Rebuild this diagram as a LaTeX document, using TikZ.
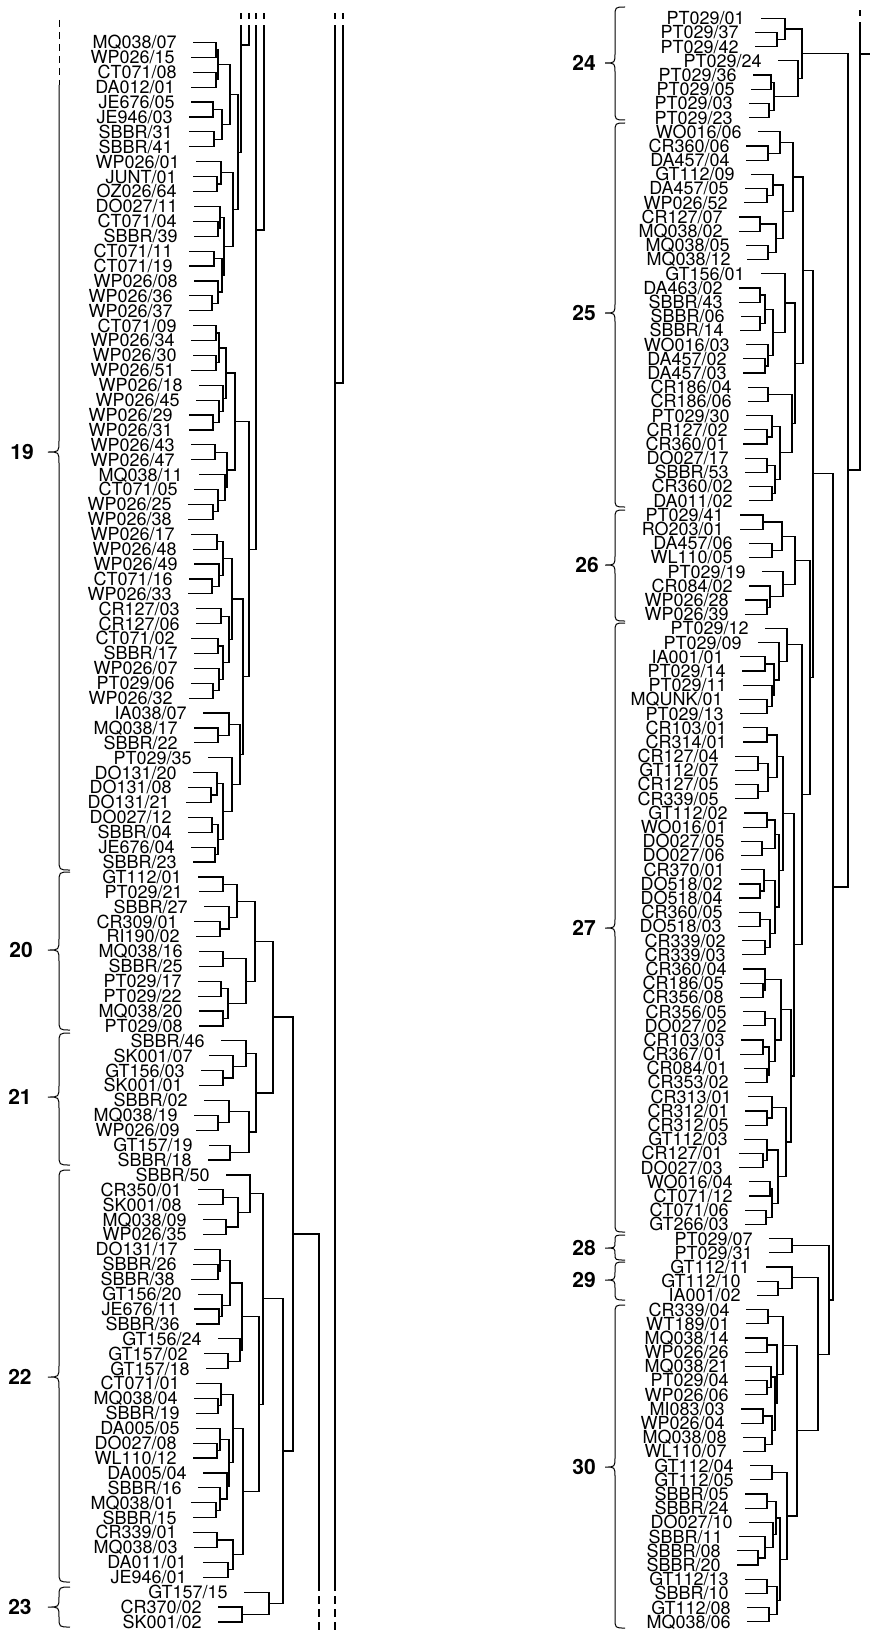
\documentclass[tikz,border=0pt]{standalone}
\usepackage{fontspec}
\setmainfont{TeX Gyre Heros}
\usepackage{tikz}

% join two children at x = #4
\newcommand{\mrg}[4]{%
  \path (#2) -- (#3) coordinate[pos=.5] (mid);
  \coordinate (xc) at (#4,0);
  \coordinate (#1) at (mid -| xc);
  \draw[branch] (#2) -| (#1) |- (#3);
}
% curly brace: x of ends, top, tip, bottom, amplitude
\newcommand{\cbrace}[5]{%
  \pgfmathsetmacro{\rr}{min(#5/2,(#3-#2)/2,(#4-#3)/2)}%
  \draw[bline] (#1,#2) .. controls ({#1-#5/2},#2) .. ({#1-#5/2},{#2+\rr})
    -- ({#1-#5/2},{#3-\rr}) .. controls ({#1-#5/2},#3) .. ({#1-#5},#3)
    .. controls ({#1-#5/2},#3) .. ({#1-#5/2},{#3+\rr})
    -- ({#1-#5/2},{#4-\rr}) .. controls ({#1-#5/2},#4) .. (#1,#4);
}

\begin{document}
\begin{tikzpicture}[x=0.5pt, y=-0.5pt,
  leaf/.style={anchor=east, inner sep=0pt, text height=6.4pt, text depth=0pt,
    font=\fontsize{9}{9}\selectfont},
  grp/.style={font=\fontsize{10.5}{10.5}\selectfont\bfseries},
  branch/.style={line width=0.6pt},
  trunk/.style={line width=0.9pt},
  bline/.style={line width=0.5pt},
  offtop/.style={line width=0.6pt, dash pattern=on 3pt off 3pt},
  offbot/.style={line width=0.6pt, dash pattern=on 4pt off 2.5pt}
]
\useasboundingbox (0,0) rectangle (870,1632);

% left column leaves
\foreach \lab/\ex [count=\i] in {{MQ038/07}/177, {WP026/15}/175, {CT071/08}/177,
  {DA012/01}/175, {JE676/05}/175, {JE946/03}/173, {SBBR/31}/173, {SBBR/41}/173,
  {WP026/01}/180, {JUNT/01}/177, {OZ026/64}/177, {DO027/11}/178, {CT071/04}/177,
  {SBBR/39}/178, {CT071/11}/173, {CT071/19}/173, {WP026/08}/178, {WP026/36}/173,
  {WP026/37}/173, {CT071/09}/177, {WP026/34}/175, {WP026/30}/177, {WP026/51}/175,
  {WP026/18}/183, {WP026/45}/180, {WP026/29}/173, {WP026/31}/173, {WP026/43}/175,
  {WP026/47}/175, {MQ038/11}/183, {CT071/05}/178, {WP026/25}/172, {WP026/38}/172,
  {WP026/17}/175, {WP026/48}/177, {WP026/49}/178, {CT071/16}/173, {WP026/33}/172,
  {CR127/03}/180, {CR127/06}/180, {CT071/02}/175, {SBBR/17}/178, {WP026/07}/178,
  {PT029/06}/175, {WP026/32}/173, {IA038/07}/187, {MQ038/17}/178, {SBBR/22}/178,
  {PT029/35}/192, {DO131/20}/177, {DO131/08}/172, {DO131/21}/170, {DO027/12}/172,
  {SBBR/04}/172, {JE676/04}/175, {SBBR/23}/177, {GT112/01}/182, {PT029/21}/183,
  {SBBR/27}/188, {CR309/01}/178, {RI190/02}/180, {MQ038/16}/183, {SBBR/25}/183,
  {PT029/17}/182, {PT029/22}/182, {MQ038/20}/183, {PT029/08}/183, {SBBR/46}/205,
  {SK001/07}/193, {GT156/03}/185, {SK001/01}/183, {SBBR/02}/188, {MQ038/19}/178,
  {WP026/09}/180, {GT157/19}/193, {SBBR/18}/192, {SBBR/50}/210, {CR350/01}/182,
  {SK001/08}/182, {MQ038/09}/187, {WP026/35}/187, {DO131/17}/178, {SBBR/26}/177,
  {SBBR/38}/175, {GT156/20}/182, {JE676/11}/178, {SBBR/36}/180, {GT156/24}/202,
  {GT157/02}/188, {GT157/18}/190, {CT071/01}/180, {MQ038/04}/178, {SBBR/19}/180,
  {DA005/05}/180, {DO027/08}/177, {WL110/12}/177, {DA005/04}/187, {SBBR/16}/182,
  {MQ038/01}/175, {SBBR/15}/177, {CR339/01}/177, {MQ038/03}/178, {DA011/01}/187,
  {JE946/01}/187, {GT157/15}/228, {CR370/02}/202, {SK001/02}/202}{
  \node[leaf] (lab\i) at (\ex, {42.5+(\i-1)*14.9}) {\lab};
  \coordinate (L\i) at ({\ex+16}, {42.5+(\i-1)*14.9});
}

% right column leaves
\foreach \lab/\ex [count=\i] in {{PT029/01}/745, {PT029/37}/739, {PT029/42}/739,
  {PT029/24}/762, {PT029/36}/737, {PT029/05}/735, {PT029/03}/733, {PT029/23}/733,
  {WO016/06}/742, {CR360/06}/730, {DA457/04}/730, {GT112/09}/735, {DA457/05}/729,
  {WP026/52}/728, {CR127/07}/723, {MQ038/02}/723, {MQ038/05}/730, {MQ038/12}/731,
  {GT156/01}/745, {DA463/02}/723, {SBBR/43}/723, {SBBR/06}/725, {SBBR/14}/724,
  {WO016/03}/730, {DA457/02}/727, {DA457/03}/727, {CR186/04}/732, {CR186/06}/732,
  {PT029/30}/730, {CR127/02}/728, {CR360/01}/727, {DO027/17}/729, {SBBR/53}/729,
  {CR360/02}/733, {DA011/02}/733, {PT029/41}/724, {RO203/01}/724, {DA457/06}/733,
  {WL110/05}/733, {PT029/19}/746, {CR084/02}/733, {WP026/28}/729, {WP026/39}/729,
  {PT029/12}/749, {PT029/09}/742, {IA001/01}/724, {PT029/14}/726, {PT029/11}/727,
  {MQUNK/01}/723, {PT029/13}/724, {CR103/01}/727, {CR314/01}/727, {CR127/04}/719,
  {GT112/07}/719, {CR127/05}/719, {CR339/05}/719, {GT112/02}/728, {WO016/01}/727,
  {DO027/05}/725, {DO027/06}/725, {CR370/01}/725, {DO518/02}/723, {DO518/04}/723,
  {CR360/05}/723, {DO518/03}/722, {CR339/02}/726, {CR339/03}/726, {CR360/04}/727,
  {CR186/05}/724, {CR356/08}/724, {CR356/05}/727, {DO027/02}/727, {CR103/03}/725,
  {CR367/01}/724, {CR084/01}/728, {CR353/02}/729, {CR313/01}/732, {CR312/01}/729,
  {CR312/05}/729, {GT112/03}/728, {CR127/01}/723, {DO027/03}/723, {WO016/04}/733,
  {CT071/12}/733, {CT071/06}/729, {GT266/03}/729, {PT029/07}/753, {PT029/31}/753,
  {GT112/11}/750, {GT112/10}/741, {IA001/02}/741, {CR339/04}/730, {WT189/01}/730,
  {MQ038/14}/729, {WP026/26}/729, {MQ038/21}/729, {PT029/04}/729, {WP026/06}/729,
  {MI083/03}/725, {WP026/04}/725, {MQ038/08}/727, {WL110/07}/727, {GT112/04}/734,
  {GT112/05}/734, {SBBR/05}/729, {SBBR/24}/729, {DO027/10}/733, {SBBR/11}/723,
  {SBBR/08}/721, {SBBR/20}/721, {GT112/13}/729, {SBBR/10}/729, {GT112/08}/731,
  {MQ038/06}/731}{
  \node[leaf] (rlab\i) at (\ex, {18.3+(\i-1)*14.19}) {\lab};
  \coordinate (R\i) at ({\ex+16}, {18.3+(\i-1)*14.19});
}

% cluster 19
\mrg{a1}{L1}{L2}{216} \mrg{a2}{L3}{L4}{216} \mrg{a3}{a1}{a2}{218}
\mrg{a4}{L5}{L6}{213} \mrg{a5}{L7}{L8}{214} \mrg{a6}{a4}{a5}{222}
\mrg{a7}{a3}{a6}{230}
\mrg{a8}{L10}{L11}{217} \mrg{a9}{L9}{a8}{221}
\mrg{a10}{L13}{L14}{218} \mrg{a11}{L12}{a10}{220}
\mrg{a12}{L15}{L16}{214} \mrg{a13}{L18}{L19}{212} \mrg{a14}{L17}{a13}{218}
\mrg{a15}{a12}{a14}{222} \mrg{a16}{a11}{a15}{224}
\mrg{a17}{a9}{a16}{233} \mrg{a18}{a7}{a17}{238}
\mrg{b1}{L20}{L21}{216} \mrg{b2}{L22}{L23}{216} \mrg{b3}{b1}{b2}{219}
\mrg{b4}{L26}{L27}{213} \mrg{b5}{L25}{b4}{219} \mrg{b6}{L24}{b5}{223}
\mrg{b7}{b3}{b6}{226}
\mrg{b8}{L28}{L29}{215} \mrg{b9}{L32}{L33}{213} \mrg{b10}{L31}{b9}{218}
\mrg{b11}{L30}{b10}{225} \mrg{b12}{b8}{b11}{227} \mrg{b13}{b7}{b12}{235}
\mrg{c1}{L34}{L35}{217} \mrg{c2}{L37}{L38}{212} \mrg{c3}{L36}{c2}{219}
\mrg{c4}{c1}{c3}{223}
\mrg{c5}{L39}{L40}{221} \mrg{c6}{L41}{L42}{218} \mrg{c7}{L44}{L45}{213}
\mrg{c8}{L43}{c7}{219} \mrg{c9}{c6}{c8}{223} \mrg{c10}{c5}{c9}{229}
\mrg{c11}{c4}{c10}{232}
\mrg{d1}{L47}{L48}{218} \mrg{d2}{L46}{d1}{229}
\mrg{d3}{L51}{L52}{211} \mrg{d4}{L50}{d3}{217}
\mrg{d5}{L53}{L54}{212} \mrg{d6}{L55}{L56}{215} \mrg{d7}{d5}{d6}{218}
\mrg{d8}{d4}{d7}{223} \mrg{d9}{L49}{d8}{232} \mrg{d10}{d2}{d9}{240}
\mrg{e1}{c11}{d10}{243} \mrg{e2}{b13}{e1}{249}

% cluster 20
\mrg{f1}{L57}{L58}{223} \mrg{f2}{L60}{L61}{220} \mrg{f3}{L59}{f2}{229}
\mrg{f4}{f1}{f3}{237}
\mrg{f5}{L62}{L63}{223} \mrg{f6}{L64}{L65}{221} \mrg{f7}{L66}{L67}{223}
\mrg{f8}{f6}{f7}{228} \mrg{f9}{f5}{f8}{246} \mrg{f10}{f4}{f9}{255}

% cluster 21
\mrg{g1}{L70}{L71}{223} \mrg{g2}{L69}{g1}{233} \mrg{g3}{L68}{g2}{246}
\mrg{g4}{L73}{L74}{218} \mrg{g5}{L72}{g4}{229} \mrg{g6}{L75}{L76}{230}
\mrg{g7}{g5}{g6}{249} \mrg{g8}{g3}{g7}{256}
\mrg{h1}{f10}{g8}{273}

% cluster 22
\mrg{i1}{L78}{L79}{223} \mrg{i2}{L80}{L81}{226} \mrg{i3}{i1}{i2}{238}
\mrg{i4}{L77}{i3}{250}
\mrg{i5}{L83}{L84}{218} \mrg{i6}{L82}{i5}{220}
\mrg{i7}{L86}{L87}{219} \mrg{i8}{L85}{i7}{222} \mrg{i9}{i6}{i8}{230}
\mrg{i10}{L89}{L90}{228} \mrg{i11}{L88}{i10}{240} \mrg{i12}{i9}{i11}{242}
\mrg{i13}{L92}{L93}{218} \mrg{i14}{L91}{i13}{221}
\mrg{i15}{L95}{L96}{217} \mrg{i16}{L94}{i15}{220}
\mrg{i17}{L99}{L100}{216} \mrg{i18}{L98}{i17}{220} \mrg{i19}{L97}{i18}{227}
\mrg{i20}{i16}{i19}{229} \mrg{i21}{i14}{i20}{233}
\mrg{i22}{L101}{L102}{217} \mrg{i23}{L103}{L104}{228} \mrg{i24}{i22}{i23}{233}
\mrg{i25}{i21}{i24}{243} \mrg{i26}{i12}{i25}{259} \mrg{i27}{i4}{i26}{263}

% cluster 23
\mrg{j1}{L106}{L107}{242} \mrg{j2}{L105}{j1}{269}
\mrg{k1}{i27}{j2}{283} \mrg{k2}{h1}{k1}{293}

% left links running off the page
\coordinate (edgeT) at (0,10);
\coordinate (edgeB) at (0,1632);
\coordinate (topA) at (241,31); \coordinate (topB) at (249,31);
\coordinate (topC) at (256,31); \coordinate (topD) at (264,31);
\coordinate (topE) at (335,31); \coordinate (topF) at (343,31);
\coordinate (jA) at (241,45); \coordinate (jC) at (256,230);
\coordinate (jE) at (335,383);
\coordinate (botE) at (335,1583); \coordinate (botG) at (319,1583);
\draw[branch] (a18) -| (topA);
\draw[branch] (jA) -| (topB);
\draw[branch] (e2) -| (topC);
\draw[branch] (jC) -| (topD);
\draw[branch] (topE) -- (botE);
\draw[trunk] (jE) -| (topF);
\draw[branch] (k2) -| (botG);
\foreach \s in {A,B,C,D,E,F}
  \draw[offtop] (top\s) -- (top\s |- edgeT);
\foreach \s in {E,G}
  \draw[offbot] (bot\s) -- (bot\s |- edgeB);

% cluster 24
\mrg{s1}{R2}{R3}{777} \mrg{s2}{R1}{s1}{785}
\mrg{s3}{R5}{R6}{771} \mrg{s4}{R7}{R8}{769} \mrg{s5}{s3}{s4}{774}
\mrg{s6}{R4}{s5}{798} \mrg{s7}{s2}{s6}{802}

% cluster 25
\mrg{t1}{R10}{R11}{768} \mrg{t2}{R9}{t1}{780}
\mrg{t3}{R13}{R14}{767} \mrg{t4}{R12}{t3}{773}
\mrg{t5}{R15}{R16}{760} \mrg{t6}{R17}{R18}{768} \mrg{t7}{t5}{t6}{776}
\mrg{t8}{t4}{t7}{783} \mrg{t9}{t2}{t8}{793}
\mrg{t10}{R20}{R21}{760} \mrg{t11}{R22}{R23}{760} \mrg{t12}{t10}{t11}{765}
\mrg{t13}{R25}{R26}{765} \mrg{t14}{R24}{t13}{768} \mrg{t15}{t12}{t14}{773}
\mrg{t16}{R19}{t15}{785}
\mrg{t17}{R27}{R28}{768} \mrg{t18}{R30}{R31}{767} \mrg{t19}{R29}{t18}{772}
\mrg{t20}{R32}{R33}{767} \mrg{t21}{R34}{R35}{772} \mrg{t22}{t20}{t21}{775}
\mrg{t23}{t19}{t22}{780} \mrg{t24}{t17}{t23}{792}
\mrg{t25}{t16}{t24}{795} \mrg{t26}{t9}{t25}{803}

% cluster 26
\mrg{u1}{R36}{R37}{763} \mrg{u2}{R38}{R39}{772} \mrg{u3}{u1}{u2}{782}
\mrg{u4}{R42}{R43}{767} \mrg{u5}{R41}{u4}{770} \mrg{u6}{R40}{u5}{783}
\mrg{u7}{u3}{u6}{795}

% cluster 27
\mrg{q1}{R46}{R47}{765} \mrg{q2}{R49}{R50}{767} \mrg{q3}{R48}{q2}{772}
\mrg{q4}{q1}{q3}{774} \mrg{q5}{R45}{q4}{779} \mrg{q6}{R44}{q5}{787}
\mrg{v1}{R51}{R52}{767} \mrg{v2}{R53}{R54}{758} \mrg{v3}{R55}{R56}{758}
\mrg{v4}{v2}{v3}{768} \mrg{v5}{v1}{v4}{777}
\mrg{v6}{R57}{R58}{767} \mrg{v7}{R59}{R60}{762} \mrg{v8}{v6}{v7}{775}
\mrg{v9}{R62}{R63}{760} \mrg{v10}{R61}{v9}{764}
\mrg{v11}{R64}{R65}{760} \mrg{v12}{R66}{R67}{765} \mrg{v13}{v11}{v12}{770}
\mrg{v14}{v10}{v13}{775} \mrg{v15}{v8}{v14}{779} \mrg{v16}{v5}{v15}{783}
\mrg{w1}{R69}{R70}{763} \mrg{w2}{R68}{w1}{765}
\mrg{w3}{R71}{R72}{765} \mrg{w4}{R73}{R74}{763} \mrg{w5}{R75}{R76}{767}
\mrg{w6}{w4}{w5}{769} \mrg{w7}{w3}{w6}{775} \mrg{w8}{w2}{w7}{781}
\mrg{w9}{R78}{R79}{767} \mrg{w10}{R77}{w9}{772}
\mrg{w11}{R81}{R82}{763} \mrg{w12}{R80}{w11}{767}
\mrg{w13}{R83}{R84}{770} \mrg{w14}{R85}{R86}{766} \mrg{w15}{w13}{w14}{772}
\mrg{w16}{w12}{w15}{778} \mrg{w17}{w10}{w16}{786} \mrg{w18}{w8}{w17}{791}
\mrg{w19}{v16}{w18}{794} \mrg{q7}{q6}{w19}{802}

% clusters 28 and 29
\mrg{p1}{R87}{R88}{792}
\mrg{p2}{R90}{R91}{778} \mrg{p3}{R89}{p2}{792}

% cluster 30
\mrg{z1}{R92}{R93}{768} \mrg{z2}{R94}{R95}{767}
\mrg{z3}{R97}{R98}{767} \mrg{z4}{R96}{z3}{771}
\mrg{z5}{R99}{R100}{763} \mrg{z6}{R101}{R102}{765} \mrg{z7}{z5}{z6}{772}
\mrg{z8}{z4}{z7}{775} \mrg{z9}{z2}{z8}{777} \mrg{z10}{z1}{z9}{783}
\mrg{z11}{R103}{R104}{772} \mrg{z12}{R105}{R106}{767}
\mrg{z13}{R109}{R110}{758} \mrg{z14}{R108}{z13}{765} \mrg{z15}{R107}{z14}{773}
\mrg{z16}{z12}{z15}{776}
\mrg{z17}{R111}{R112}{767} \mrg{z18}{R113}{R114}{769} \mrg{z19}{z17}{z18}{777}
\mrg{z20}{z16}{z19}{780} \mrg{z21}{z11}{z20}{787} \mrg{z22}{z10}{z21}{797}

% right trunk
\mrg{n1}{u7}{q7}{810} \mrg{n2}{t26}{n1}{813}
\mrg{n3}{p3}{z22}{818} \mrg{n4}{p1}{n3}{829}
\mrg{n5}{n2}{n4}{833} \mrg{n6}{s7}{n5}{848}
\coordinate (topR) at (860,28);
\coordinate (jR) at (860,54);
\coordinate (edgeR) at (870,54);
\draw[trunk] (n6) -| (topR);
\draw[trunk] (jR) -- (edgeR);
\draw[offtop] (topR) -- (topR |- edgeT);

% braces and cluster numbers
\draw[bline, dash pattern=on 3.5pt off 2.5pt] (59,20) -- (59,85);
\draw[bline] (59,85) -- (59,441) .. controls (59,452) .. (48,452)
  .. controls (59,452) .. (59,463) -- (59,859) .. controls (59,870) .. (70,870);
\cbrace{70}{872}{950}{1030}{22}
\cbrace{70}{1033}{1097}{1165}{22}
\cbrace{70}{1170}{1377}{1582}{22}
\cbrace{70}{1587}{1607}{1627}{22}
\cbrace{625}{7}{63}{120}{20}
\cbrace{625}{123}{313}{507}{20}
\cbrace{625}{510}{565}{621}{20}
\cbrace{625}{623}{928}{1232}{20}
\cbrace{625}{1235}{1248}{1260}{20}
\cbrace{625}{1262}{1280}{1300}{20}
\cbrace{625}{1305}{1467}{1628}{20}
\foreach \c/\x/\y in {19/22/452, 20/21/950, 21/20/1097, 22/20/1377, 23/20/1607,
  24/584/63, 25/584/313, 26/587/565, 27/584/928, 28/584/1248, 29/584/1280,
  30/584/1467}
  \node[grp] (cl\c) at (\x,\y) {\c};
\end{tikzpicture}
\end{document}
